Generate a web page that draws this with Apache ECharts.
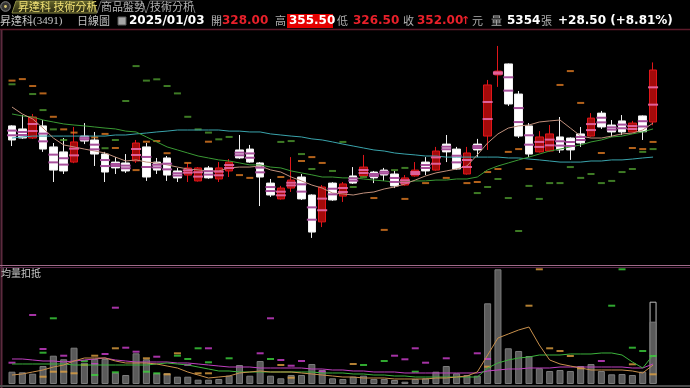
<!DOCTYPE html>
<html><head><meta charset="utf-8">
<script src="https://cdn.jsdelivr.net/npm/echarts@6/dist/echarts.min.js"></script>
<style>html,body{margin:0;padding:0;background:#000;}#c{width:690px;height:388px;}</style>
</head><body><div id="c"></div>
<script>
const categories = ['1','2','3','4','5','6','7','8','9','10','11','12','13','14','15','16','17','18','19','20','21','22','23','24','25','26','27','28','29','30','31','32','33','34','35','36','37','38','39','40','41','42','43','44','45','46','47','48','49','50','51','52','53','54','55','56','57','58','59','60','61','62','63'];
const opens = [326.2,324.8,320.6,326.2,316.5,314.2,309.5,321.5,319.7,313.2,309.5,309.1,310.0,316.5,309.5,311.4,305.4,303.5,300.8,306.8,301.7,305.4,315.1,315.5,309.1,299.8,292.5,297.5,302.6,294.3,281.9,299.8,293.8,303.1,303.1,304.9,305.8,304.0,298.9,303.1,309.5,305.8,317.8,315.5,304.0,317.8,321.5,349.7,354.8,340.9,326.2,314.2,314.6,321.1,320.6,322.5,321.5,332.1,326.6,328.5,323.4,330.8,328.0];
const closes = [319.7,320.6,330.3,315.5,305.8,305.4,318.8,319.2,313.2,304.9,306.8,305.4,318.3,302.6,305.8,303.5,302.2,306.8,306.8,302.2,306.8,309.5,311.4,309.5,302.6,294.3,297.5,301.2,292.5,277.2,298.0,292.0,299.4,299.8,307.2,302.2,303.5,298.5,302.2,305.8,305.4,314.6,314.2,306.3,313.7,315.1,345.1,351.5,336.3,321.5,313.2,321.1,322.5,315.1,315.1,318.3,329.8,325.7,323.4,323.4,327.5,323.5,352.0];
const lows = [316.9,320.2,320.2,314.2,300.3,304.0,309.0,317.8,307.7,300.3,304.0,304.5,309.1,300.8,304.0,300.8,300.3,300.3,300.5,301.8,300.3,302.6,311.0,309.2,289.2,293.4,292.2,295.7,292.0,274.5,279.5,291.6,291.1,299.4,302.8,299.8,300.8,297.5,298.6,302.8,303.5,305.5,309.5,306.0,303.7,311.8,315.1,344.2,335.4,320.6,311.8,313.9,314.3,313.7,310.5,316.5,321.2,324.8,321.1,322.0,323.1,319.7,326.5];
const highs = [326.5,331.2,331.7,328.9,318.3,320.6,325.7,327.5,323.4,314.2,311.8,313.2,319.7,318.3,311.4,312.3,306.8,309.1,307.2,307.7,309.5,310.9,322.0,317.4,309.5,301.7,298.5,311.8,304.0,294.6,298.9,300.2,300.3,307.2,312.8,305.4,306.8,305.4,303.5,309.5,311.8,316.5,322.0,316.5,316.5,320.2,347.4,363.1,355.0,342.3,327.5,323.8,326.6,330.3,320.9,325.7,332.1,333.1,328.9,331.2,328.5,331.0,355.5];
const ma5 = [334.9,331.7,329.4,325.2,320.6,317.4,316.5,315.5,314.6,313.7,311.8,310.0,310.5,309.5,309.1,308.2,307.2,306.3,305.9,305.4,305.4,306.8,307.2,307.2,307.7,305.9,304.9,302.6,300.8,298.9,297.5,295.2,294.8,294.3,295.2,295.7,297.1,298.0,299.4,301.2,303.1,304.5,305.4,306.3,307.7,312.8,318.3,322.5,325.2,326.2,326.6,328.0,328.5,328.9,325.2,321.5,320.6,320.6,321.5,322.5,322.9,324.3,327.5];
const ma20 = [331.7,330.8,330.3,328.9,328.0,327.1,326.6,326.2,325.7,325.2,324.8,323.8,323.4,321.1,318.8,316.5,315.1,313.7,312.3,311.4,310.5,310.0,309.1,308.2,308.2,307.2,306.8,305.4,304.5,303.6,302.6,302.6,302.2,302.2,301.7,301.2,300.8,300.3,300.3,300.8,300.8,301.2,301.2,301.7,301.7,302.6,305.9,307.7,309.1,310.5,311.8,313.2,314.6,315.5,316.5,317.4,318.8,319.7,321.1,321.5,322.5,323.4,324.8];
const ma60 = [320.6,321.1,321.5,321.5,321.5,321.5,321.5,321.5,321.5,321.5,322.0,322.0,322.5,322.9,323.4,323.8,324.3,324.3,324.3,324.3,324.3,323.8,323.8,323.4,323.4,322.5,322.0,321.5,321.1,320.2,319.7,318.8,317.8,316.9,316.0,315.1,314.6,313.7,313.2,312.8,312.3,312.3,311.8,311.8,311.8,311.8,311.8,311.8,311.4,311.4,310.9,310.5,310.0,309.5,309.5,309.5,310.0,310.0,310.5,310.5,310.9,311.4,311.8];
const volumes = [1057,1005,885,1546,2431,2122,3118,1830,2148,2148,971,773,2637,2122,919,919,627,627,369,369,430,713,1632,713,1976,713,490,773,773,1718,1203,490,430,627,713,430,430,344,198,430,490,1057,1546,919,773,713,6932,9853,3067,2835,2405,1349,1117,1203,1117,1546,1718,1117,833,859,773,1057,5354];
const volEstimate = ['-','-','-','-','-','-','-','-','-','-','-','-','-','-','-','-','-','-','-','-','-','-','-','-','-','-','-','-','-','-','-','-','-','-','-','-','-','-','-','-','-','-','-','-','-','-','-','-','-','-','-','-','-','-','-','-','-','-','-','-','-','-',7070];
const volMaA = [2148,2148,2062,1976,1976,1890,1976,2062,2148,2233,2062,1976,1890,1890,1890,1890,1804,1804,1718,1632,1546,1460,1460,1460,1374,1374,1374,1374,1374,1289,1289,1203,1203,1117,1117,1031,1031,1031,945,945,945,945,945,945,945,945,1117,1203,1289,1289,1374,1374,1374,1460,1460,1460,1460,1460,1460,1460,1374,1374,1718];
const volMaB = [1718,1718,1718,1718,1718,1718,1632,1632,1632,1632,1632,1632,1632,1632,1718,1804,1718,1632,1460,1289,1117,1117,1031,1031,1031,1031,1031,1031,1031,1031,945,945,945,859,859,773,773,687,687,601,601,601,601,601,601,601,1374,1804,2062,2233,2319,2491,2491,2491,2577,2577,2577,2663,2663,2491,1890,1374,2491];
const volMaC = [773,859,1031,1203,1460,1632,1976,2233,2233,2233,1976,1804,1804,1804,1718,1546,1374,1031,773,515,601,687,945,1031,1117,1031,1031,1031,945,859,773,687,601,601,515,515,515,430,430,430,430,515,515,601,687,1031,2491,3951,4295,4639,4896,3350,2062,1718,1546,1374,1203,1203,1203,1203,1117,945,1632];
const orangeMarks = [[0,347.1],[1,347.8],[2,344.6],[3,341.2],[4,330.4],[5,324.6],[6,323.1],[8,320.9],[9,322.5],[10,316.0],[12,305.8],[13,318.9],[14,319.2],[15,313.6],[17,309.1],[19,318.9],[22,303.5],[23,302.2],[26,302.6],[28,310.0],[29,311.8],[30,309.1],[35,292.9],[36,278.2],[38,292.5],[40,299.8],[42,302.2],[44,299.8],[45,300.3],[46,304.9],[47,306.3],[48,314.2],[49,315.5],[50,306.3],[53,345.1],[54,351.5],[55,336.8],[57,313.7],[60,316.0],[61,315.5],[62,318.8]];
const greenMarks = [[0,345.4],[2,340.9],[3,333.5],[4,324.6],[5,319.7],[9,315.9],[10,319.7],[11,337.7],[12,353.8],[13,347.1],[14,347.7],[15,344.6],[16,341.2],[17,330.4],[18,324.6],[19,323.1],[20,320.0],[21,321.1],[26,318.8],[27,319.2],[28,313.2],[29,306.3],[31,305.4],[32,318.8],[33,298.0],[34,302.6],[37,305.8],[38,306.8],[45,295.2],[46,298.0],[47,301.7],[48,292.9],[49,277.7],[50,298.5],[51,292.5],[52,299.8],[53,299.8],[54,307.2],[55,302.2],[56,304.0],[57,299.8],[58,300.8],[59,304.9],[60,306.3],[61,314.2],[62,315.5]];
const volMagentaMarks = [[0,1830],[2,5927],[3,3007],[5,2431],[8,1718],[9,2577],[10,6554],[11,3118],[12,2775],[14,2345],[17,1632],[19,3067],[24,2637],[25,5644],[26,2062],[27,1572],[28,1976],[30,1057],[37,2431],[38,2122],[39,3067],[40,1830],[42,2208],[45,2637],[46,2148],[57,1976]];
const volGreenMarks = [[3,2689],[4,5644],[7,1976],[8,773],[10,1005],[13,1057],[14,919],[16,2431],[17,2148],[18,3067],[19,1864],[21,2208],[25,2148],[34,1632],[36,1976],[39,1057],[58,6726],[59,9853],[60,3118],[61,2835],[62,2405]];
const volOrangeMarks = [[3,627],[4,1057],[5,1057],[6,919],[7,1632],[8,2431],[10,3067],[13,2208],[15,833],[16,2637],[18,919],[19,919],[26,1632],[27,541],[33,1718],[46,1486],[50,6726],[51,9853],[52,3067],[53,2835],[54,2405],[55,1349],[60,1692],[62,833]];

const candleData = opens.map((o, i) => [o, closes[i], lows[i], highs[i]]);
const thirdData = opens.map((o, i) => [i, o, closes[i]]);

const chart = echarts.init(document.getElementById('c'), null, {renderer: 'canvas'});
const cjk = '"Noto Sans CJK TC"';
const num = 'bold 12px "DejaVu Sans"';
function T(x, y, text, fill, font) {
  return {type: 'text', x: x, y: y, silent: true, style: {text: text, fill: fill, font: font, textVerticalAlign: 'middle'}};
}
const graphics = [
  {type: 'rect', shape: {x: 0, y: 0, width: 690, height: 13}, style: {fill: '#000'}},
  {type: 'circle', shape: {cx: 5.5, cy: 6.5, r: 4.8}, style: {fill: '#333', stroke: '#8a8a8a', lineWidth: 1}},
  {type: 'circle', shape: {cx: 5.5, cy: 6.5, r: 1.4}, style: {fill: '#d8c870'}},
  {type: 'polygon', shape: {points: [[12, 13], [16, 1], [93, 1], [97, 13]]}, style: {fill: new echarts.graphic.LinearGradient(0, 0, 0, 1, [{offset: 0, color: '#66662a'}, {offset: 1, color: '#262610'}]), stroke: '#8a8a44', lineWidth: 1}},
  T(18, 7, '昇達科 技術分析', '#f2e276', '11px ' + cjk),
  {type: 'polyline', shape: {points: [[97, 13], [101, 1], [142, 1], [146, 13]]}, style: {stroke: '#6a6a6a', fill: null, lineWidth: 1}},
  T(101, 7, '商品盤勢', '#b4b4b4', '11px ' + cjk),
  {type: 'polyline', shape: {points: [[146, 13], [150, 1], [191, 1], [195, 13]]}, style: {stroke: '#6a6a6a', fill: null, lineWidth: 1}},
  T(150, 7, '技術分析', '#b4b4b4', '11px ' + cjk),
  T(0, 21, '昇達科', '#c8c8c8', '11px ' + cjk),
  T(33, 21, '(3491)', '#c8c8c8', '11px "Liberation Serif"'),
  T(77, 21, '日線圖', '#c0c0c0', '11px ' + cjk),
  {type: 'rect', shape: {x: 118, y: 17, width: 8, height: 8}, style: {fill: '#a6a6a6', stroke: '#5a5a5a', lineWidth: 1}},
  T(129, 21, '2025/01/03', '#ffffff', num),
  T(211, 21, '開', '#b0b0b0', '11px ' + cjk),
  T(222, 21, '328.00', '#e8202a', num),
  T(275, 21, '高', '#b0b0b0', '11px ' + cjk),
  {type: 'rect', shape: {x: 287, y: 14, width: 46, height: 14}, style: {fill: '#e40000'}},
  T(289, 21, '355.50', '#ffffff', num),
  T(337, 21, '低', '#b0b0b0', '11px ' + cjk),
  T(353, 21, '326.50', '#e8202a', num),
  T(403, 21, '收', '#b0b0b0', '11px ' + cjk),
  T(417, 21, '352.00', '#e8202a', num),
  T(461, 21, '↑', '#e8202a', 'bold 11px "DejaVu Sans"'),
  T(472, 21, '元', '#b0b0b0', '11px ' + cjk),
  T(491, 21, '量', '#b0b0b0', '11px ' + cjk),
  T(507, 21, '5354', '#ffffff', num),
  T(541, 21, '張', '#b0b0b0', '11px ' + cjk),
  T(558, 21, '+28.50 (+8.81%)', '#ffffff', num),
  {type: 'line', shape: {x1: 0, y1: 29.5, x2: 690, y2: 29.5}, style: {stroke: '#5c1a2a', lineWidth: 1.5}},
  {type: 'line', shape: {x1: 1.5, y1: 30, x2: 1.5, y2: 388}, style: {stroke: '#5c2a3e', lineWidth: 2}},
  {type: 'line', shape: {x1: 0, y1: 265.5, x2: 690, y2: 265.5}, style: {stroke: '#a06a8a', lineWidth: 1}},
  {type: 'line', shape: {x1: 0, y1: 267.5, x2: 690, y2: 267.5}, style: {stroke: '#5a2a4a', lineWidth: 1}},
  {type: 'line', shape: {x1: 0, y1: 386, x2: 690, y2: 386}, style: {stroke: '#4a4a4a', lineWidth: 2}},
  T(1, 273.5, '均量扣抵', '#c8c8c8', '10px ' + cjk)
];

function marks(name, data, color, grid, size) {
  return {name: name, type: 'scatter', xAxisIndex: grid, yAxisIndex: grid, data: data, symbol: 'rect', symbolSize: size || [7, 2], itemStyle: {color: color}, z: 4, silent: true};
}
function line(name, data, color, grid) {
  return {name: name, type: 'line', xAxisIndex: grid, yAxisIndex: grid, data: data, showSymbol: false, smooth: false, lineStyle: {color: color, width: 1}, z: 5, silent: true};
}

const option = {
  backgroundColor: '#000',
  animation: false,
  grid: [
    {left: 6.83, top: 30, width: 651.4, height: 232},
    {left: 6.83, top: 268, width: 651.4, height: 116}
  ],
  xAxis: [
    {type: 'category', data: categories, gridIndex: 0, show: false, boundaryGap: true},
    {type: 'category', data: categories, gridIndex: 1, show: false, boundaryGap: true}
  ],
  yAxis: [
    {type: 'value', gridIndex: 0, min: 263.38, max: 370.46, show: false, splitLine: {show: false}},
    {type: 'value', gridIndex: 1, min: 0, max: 9964, show: false, splitLine: {show: false}}
  ],
  series: [
    marks('orange', orangeMarks, '#e07a22', 0),
    marks('green', greenMarks, '#4e9a2e', 0),
    line('MA60', ma60, '#3aa4ac', 0),
    line('MA20', ma20, '#3a9a34', 0),
    line('MA5', ma5, '#c0907c', 0),
    {
      name: 'K', type: 'candlestick', xAxisIndex: 0, yAxisIndex: 0, data: candleData, barWidth: 8, z: 3,
      itemStyle: {color: '#a30a0a', color0: '#ffffff', borderColor: '#e0161a', borderColor0: '#f0f0f0', borderWidth: 1}
    },
    {
      name: 'thirds', type: 'custom', xAxisIndex: 0, yAxisIndex: 0, data: thirdData, z: 6, silent: true,
      renderItem: function (params, api) {
        const i = api.value(0), o = api.value(1), c = api.value(2);
        const a = api.coord([i, o + (c - o) / 3]);
        const b = api.coord([i, o + 2 * (c - o) / 3]);
        const col = c >= o ? '#e0609a' : '#a8509c';
        return {type: 'group', children: [
          {type: 'rect', shape: {x: a[0] - 5, y: a[1] - 1, width: 10, height: 2}, style: {fill: col}},
          {type: 'rect', shape: {x: b[0] - 5, y: b[1] - 1, width: 10, height: 2}, style: {fill: col}}
        ]};
      }
    },
    {
      name: 'volEst', type: 'bar', xAxisIndex: 1, yAxisIndex: 1, data: volEstimate, barWidth: 7, barGap: '-100%', z: 2,
      itemStyle: {color: 'rgba(0,0,0,0)', borderColor: '#bdbdbd', borderWidth: 1}, silent: true
    },
    {
      name: 'vol', type: 'bar', xAxisIndex: 1, yAxisIndex: 1, data: volumes, barWidth: 7, barGap: '-100%', z: 3,
      itemStyle: {color: '#5a5a5a', borderColor: '#7c7c7c', borderWidth: 1}, silent: true
    },
    marks('vm', volMagentaMarks, '#d040d0', 1),
    marks('vg', volGreenMarks, '#3cd23c', 1),
    marks('vo', volOrangeMarks, '#e0a040', 1),
    line('volA', volMaA, '#c040c0', 1),
    line('volB', volMaB, '#3cb43c', 1),
    line('volC', volMaC, '#c8904c', 1)
  ],
  graphic: graphics
};
chart.setOption(option);
</script></body></html>
